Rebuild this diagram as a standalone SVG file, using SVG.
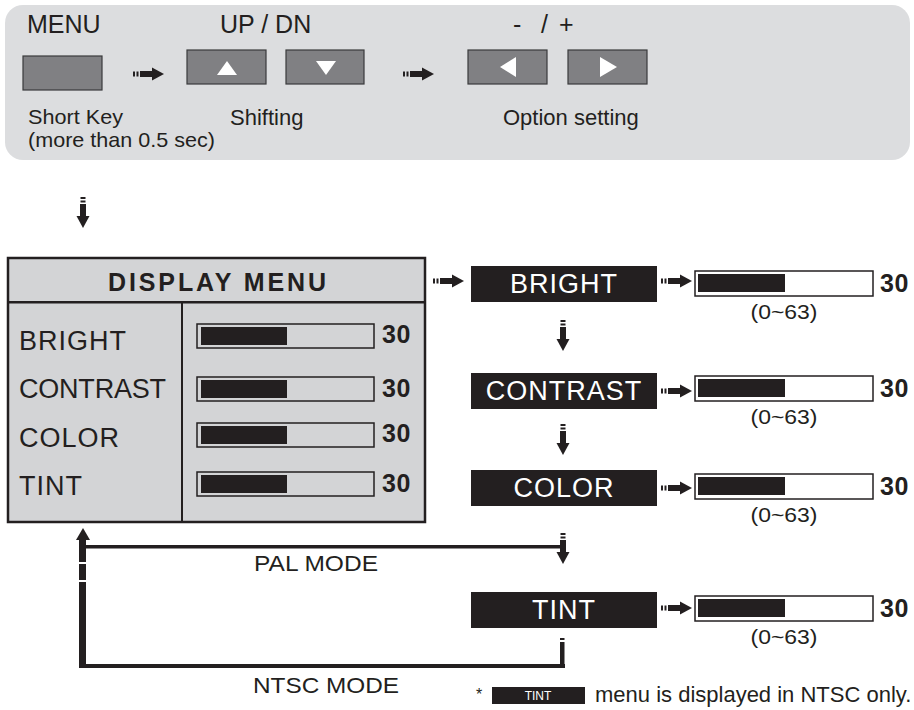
<svg xmlns="http://www.w3.org/2000/svg" xmlns:xlink="http://www.w3.org/1999/xlink" width="914" height="710" viewBox="0 0 914 710">
<style>
text{font-family:"Liberation Sans",Arial,sans-serif;fill:#231f20}
.t25{font-size:25px}
.t22{font-size:22px}
.t21{font-size:21px}
.lbl{font-size:27px;letter-spacing:1px}
.wlbl{font-size:27px;letter-spacing:1px;fill:#ffffff;text-anchor:middle}
.val{font-size:25px;font-weight:bold;letter-spacing:0.5px}
.rng{font-size:21px;text-anchor:middle}
.btn{fill:#808083;stroke:#3a3a3c;stroke-width:1.2}
.tri{fill:#ffffff}
.blk{fill:#231f20}
.barw{fill:#ffffff;stroke:#231f20;stroke-width:1.5}
.barg{fill:#d3d4d6;stroke:#231f20;stroke-width:1.5}
.ln{fill:#231f20}
</style>
<defs>
<g id="arr">
<rect x="0" y="-2.5" width="2" height="5" fill="#231f20"/>
<rect x="3.5" y="-2.5" width="2" height="5" fill="#231f20"/>
<rect x="7" y="-3" width="13" height="6" fill="#231f20"/>
<polygon points="19,-6.5 31,0 19,6.5" fill="#231f20"/>
</g>
<g id="bar">
<rect x="0" y="0" width="178" height="25" class="barw"/>
<rect x="3" y="3" width="87" height="18" class="blk"/>
</g>
</defs>

<g id="key-panel">
<rect x="5" y="5" width="905" height="155" rx="18" fill="#dcdddf"/>
<text class="t25" x="27" y="33">MENU</text>
<text class="t25" x="220" y="33">UP / DN</text>
<text class="t25" y="33"><tspan x="513">-</tspan><tspan x="541">/</tspan><tspan x="559">+</tspan></text>
<rect class="btn" x="23" y="56" width="79" height="34"/>
<rect class="btn" x="187" y="50" width="79" height="34"/>
<polygon class="tri" points="217,75 237,75 227,61"/>
<rect class="btn" x="286" y="50" width="78" height="34"/>
<polygon class="tri" points="316,61 336,61 326,75"/>
<rect class="btn" x="468" y="50" width="79" height="34"/>
<polygon class="tri" points="516,57 516,77 500,67"/>
<rect class="btn" x="568" y="50" width="79" height="34"/>
<polygon class="tri" points="600,57 600,77 617,67"/>
<text class="t21" x="28" y="124" textLength="95" lengthAdjust="spacingAndGlyphs">Short Key</text>
<text class="t21" x="28" y="147" textLength="187" lengthAdjust="spacingAndGlyphs">(more than 0.5 sec)</text>
<text class="t22" x="230" y="125">Shifting</text>
<text class="t22" x="503" y="125">Option setting</text>
</g>

<g id="display-menu">
<rect x="8" y="258" width="417" height="264" fill="#d3d4d6" stroke="#231f20" stroke-width="2.5"/>
<rect x="8" y="301" width="417" height="2.5" class="ln"/>
<rect x="181" y="302" width="2" height="220" class="ln"/>
<text x="108" y="291" font-size="25" font-weight="bold" textLength="218" lengthAdjust="spacing">DISPLAY MENU</text>
<text class="lbl" x="19" y="350">BRIGHT</text>
<text class="lbl" x="19" y="398" textLength="148" lengthAdjust="spacing">CONTRAST</text>
<text class="lbl" x="19" y="447">COLOR</text>
<text class="lbl" x="19" y="495">TINT</text>
<g>
<rect x="197" y="324" width="177" height="24" class="barg"/><rect x="201" y="327" width="86" height="18" class="blk"/>
<rect x="197" y="377" width="177" height="24" class="barg"/><rect x="201" y="380" width="86" height="18" class="blk"/>
<rect x="197" y="423" width="177" height="24" class="barg"/><rect x="201" y="426" width="86" height="18" class="blk"/>
<rect x="197" y="472" width="177" height="24" class="barg"/><rect x="201" y="475" width="86" height="18" class="blk"/>
</g>
<text class="val" x="382" y="343">30</text>
<text class="val" x="382" y="397">30</text>
<text class="val" x="382" y="442">30</text>
<text class="val" x="382" y="492">30</text>
</g>

<g id="bright">
<rect x="471" y="266" width="186" height="36" class="blk"/>
<text class="wlbl" x="564" y="293">BRIGHT</text>
</g>
<g id="bright-bar">
<use xlink:href="#bar" x="695" y="271"/>
<text class="val" x="880" y="292">30</text>
<text class="rng" x="784" y="319" textLength="67" lengthAdjust="spacingAndGlyphs">(0~63)</text>
</g>

<g id="contrast">
<rect x="471" y="373" width="186" height="36" class="blk"/>
<text class="wlbl" x="564" y="400">CONTRAST</text>
</g>
<g id="contrast-bar">
<use xlink:href="#bar" x="695" y="376"/>
<text class="val" x="880" y="397">30</text>
<text class="rng" x="784" y="424" textLength="67" lengthAdjust="spacingAndGlyphs">(0~63)</text>
</g>

<g id="color">
<rect x="471" y="470" width="186" height="36" class="blk"/>
<text class="wlbl" x="564" y="497">COLOR</text>
</g>
<g id="color-bar">
<use xlink:href="#bar" x="695" y="474"/>
<text class="val" x="880" y="495">30</text>
<text class="rng" x="784" y="522" textLength="67" lengthAdjust="spacingAndGlyphs">(0~63)</text>
</g>

<g id="tint">
<rect x="471" y="592" width="186" height="36" class="blk"/>
<text class="wlbl" x="564" y="619">TINT</text>
</g>
<g id="tint-bar">
<use xlink:href="#bar" x="695" y="596"/>
<text class="val" x="880" y="617">30</text>
<text class="rng" x="784" y="644" textLength="67" lengthAdjust="spacingAndGlyphs">(0~63)</text>
</g>

<g id="connectors">
<use xlink:href="#arr" transform="translate(133,74)"/>
<use xlink:href="#arr" transform="translate(403,74)"/>
<use xlink:href="#arr" transform="translate(83,197) rotate(90)"/>
<use xlink:href="#arr" transform="translate(433,281)"/>
<use xlink:href="#arr" transform="translate(661,281)"/>
<use xlink:href="#arr" transform="translate(563,320) rotate(90)"/>
<use xlink:href="#arr" transform="translate(661,391)"/>
<use xlink:href="#arr" transform="translate(563,424) rotate(90)"/>
<use xlink:href="#arr" transform="translate(661,488)"/>
<use xlink:href="#arr" transform="translate(563,533) rotate(90)"/>
<use xlink:href="#arr" transform="translate(661,608)"/>
<polygon points="76,540 90,540 83,528" class="ln"/>
<rect x="79" y="539" width="7" height="23" class="ln"/>
<rect x="79" y="564" width="7" height="16" class="ln"/>
<rect x="79" y="582" width="7" height="86" class="ln"/>
<rect x="85" y="545" width="480" height="3.5" class="ln"/>
<rect x="79" y="664" width="486" height="4" class="ln"/>
<rect x="560" y="642" width="4.5" height="26" class="ln"/>
<rect x="560" y="638" width="4.5" height="2" class="ln"/>
</g>

<g id="mode-labels">
<text class="t22" x="254" y="571" textLength="124" lengthAdjust="spacingAndGlyphs">PAL MODE</text>
<text class="t22" x="253" y="693" textLength="146" lengthAdjust="spacingAndGlyphs">NTSC MODE</text>
</g>

<g id="footnote">
<text x="476" y="700" font-size="16">*</text>
<rect x="492" y="687" width="93" height="17" class="blk"/>
<text x="538" y="700" font-size="12" text-anchor="middle" style="fill:#ffffff">TINT</text>
<text class="t22" x="595" y="702">menu is displayed in NTSC only.</text>
</g>
</svg>
